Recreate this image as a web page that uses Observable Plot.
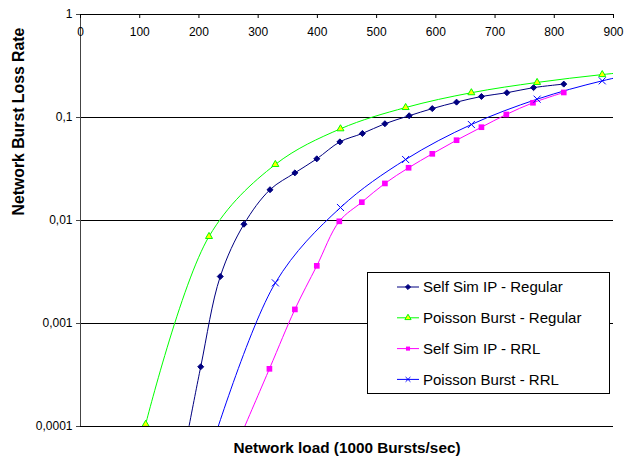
<!DOCTYPE html>
<html>
<head>
<meta charset="utf-8">
<script src="https://cdn.jsdelivr.net/npm/d3@7"></script>
<script src="https://cdn.jsdelivr.net/npm/@observablehq/plot@0.6"></script>
<style>
  html, body { margin: 0; padding: 0; background: #fff; }
  #chart svg { display: block; }
</style>
</head>
<body>
<div id="chart"></div>
<script>
// ---- data ----
const seriesNames = ["Self Sim IP - Regular", "Poisson Burst - Regular", "Self Sim IP - RRL", "Poisson Burst - RRL"];

const selfSimRegX = [170, 203, 236, 276, 320, 362, 399, 438, 476, 514, 555, 594, 635, 677, 720, 765, 816];
const selfSimRegY = [0.00004, 0.00038, 0.00286, 0.0092, 0.0199, 0.029, 0.0397, 0.058, 0.070, 0.087, 0.104, 0.122, 0.141, 0.160, 0.174, 0.195, 0.211];

const poissonRegX = [110, 217, 329, 439, 549, 660, 771, 881, 990];
const poissonRegY = [0.000105, 0.0070, 0.035, 0.0777, 0.125, 0.174, 0.219, 0.261, 0.30];

const selfSimRRLX = [236, 319, 362, 399, 437, 475, 514, 554, 594, 635, 677, 719, 764, 816];
const selfSimRRLY = [0.000028, 0.000363, 0.00137, 0.00363, 0.00982, 0.01506, 0.0229, 0.0325, 0.0444, 0.0602, 0.0805, 0.107, 0.139, 0.175];

const poissonRRLX = [220, 329, 439, 549, 660, 771, 881, 990];
const poissonRRLY = [0.00006, 0.00248, 0.01337, 0.0391, 0.0855, 0.1506, 0.227, 0.306];

const xTicks = [0, 100, 200, 300, 400, 500, 600, 700, 800, 900];
const yTicks = [1, 0.1, 0.01, 0.001, 0.0001];

const xTitle = "Network load (1000 Bursts/sec)";
const yTitle = "Network Burst Loss Rate";

// ---- build tables ----
const zip = (xs, ys) => xs.map((x, i) => ({x, y: ys[i]}));
const series = [
  {name: seriesNames[0], data: zip(selfSimRegX, selfSimRegY), stroke: "#000080", symbol: "diamond2", fill: "#000080", mstroke: "#000080", r: 2.7},
  {name: seriesNames[1], data: zip(poissonRegX, poissonRegY), stroke: "#00ff00", symbol: "triangle", fill: "#ffff00", mstroke: "#00ff00", r: 2.6},
  {name: seriesNames[2], data: zip(selfSimRRLX, selfSimRRLY), stroke: "#ff00ff", symbol: "square", fill: "#ff00ff", mstroke: "none", r: 3.2},
  {name: seriesNames[3], data: zip(poissonRRLX, poissonRRLY), stroke: "#0000ff", symbol: "times", fill: "none", mstroke: "#0000ff", r: 3.3}
];

const fmt = d => String(d).replace(".", ",");

const marks = [
  Plot.ruleY(yTicks, {stroke: "#000", strokeWidth: 1}),
  Plot.ruleX([0], {stroke: "#444", strokeWidth: 1}),
  Plot.ruleX(xTicks, {x: d => d, stroke: "#000", insetBottom: 408}),
  Plot.axisY({ticks: yTicks, tickFormat: fmt, tickSize: 4, tickPadding: 4, fontSize: 12, stroke: "#444", color: "#000", label: null}),
  Plot.text(xTicks, {x: d => d, text: d => String(d), frameAnchor: "top", lineAnchor: "middle", dy: 18, fontSize: 12, fill: "#000"}),
  Plot.text([yTitle], {frameAnchor: "left", dx: -62, dy: -5, rotate: -90, fontSize: 15.8, fontWeight: "bold", lineAnchor: "middle", fill: "#000"}),
  Plot.text([xTitle], {frameAnchor: "bottom", dy: 22, fontSize: 15.3, fontWeight: "bold", lineAnchor: "middle", fill: "#000"})
];
for (const s of series) {
  marks.push(Plot.line(s.data, {x: "x", y: "y", stroke: s.stroke, strokeWidth: 1, curve: "catmull-rom", clip: true}));
}
for (const s of series) {
  marks.push(Plot.dot(s.data, {x: "x", y: "y", symbol: () => s.symbol, r: s.r, fill: s.fill, stroke: s.mstroke, strokeWidth: 1, clip: true}));
}

const chart = Plot.plot({
  width: 624,
  height: 456,
  marginLeft: 80,
  marginRight: 11,
  marginTop: 14,
  marginBottom: 30,
  style: {fontFamily: "'Liberation Sans', Arial, sans-serif", background: "#fff", color: "#000"},
  x: {domain: [0, 900], axis: null},
  y: {type: "log", domain: [0.0001, 1], axis: null},
  symbol: {type: "identity"},
  marks
});
document.getElementById("chart").appendChild(chart);

// ---- legend ----
const svg = d3.select(chart);
const lg = svg.append("g").attr("font-family", "'Liberation Sans', Arial, sans-serif").attr("font-size", 15).attr("text-anchor", "start");
lg.append("rect").attr("x", 367.5).attr("y", 272.5).attr("width", 242).attr("height", 121)
  .attr("fill", "#fff").attr("stroke", "#000").attr("stroke-width", 1);
const symMap = {diamond2: d3.symbolDiamond2, triangle: d3.symbolTriangle, square: d3.symbolSquare, times: d3.symbolTimes};
series.forEach((s, i) => {
  const cy = 287 + i * 30.8;
  const g = lg.append("g");
  g.append("line").attr("x1", 397).attr("x2", 419).attr("y1", cy).attr("y2", cy).attr("stroke", s.stroke).attr("stroke-width", 1);
  g.append("path").attr("transform", `translate(408,${cy})`)
    .attr("d", d3.symbol(symMap[s.symbol], Math.PI * 2.3 * 2.3)())
    .attr("fill", s.fill).attr("stroke", s.mstroke).attr("stroke-width", 1);
  g.append("text").attr("x", 423).attr("y", cy).attr("dy", "0.35em").attr("fill", "#000").attr("text-anchor", "start").text(s.name);
});
</script>
</body>
</html>
